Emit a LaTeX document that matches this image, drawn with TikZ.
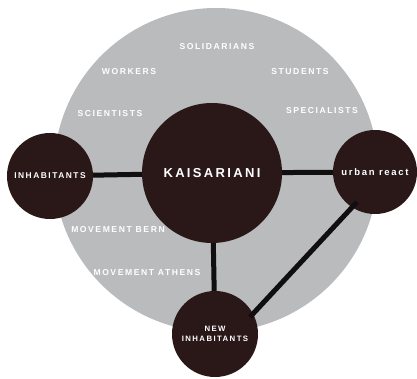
\documentclass[tikz,border=0pt]{standalone}
\usepackage{fontspec}
\setmainfont{Liberation Sans}
\newfontfamily\lblfont[LetterSpace=18,BoldFont={Liberation Sans Bold}]{Liberation Sans}
\usetikzlibrary{calc}

\definecolor{cloud}{RGB}{185,187,189}
\definecolor{hubfill}{RGB}{42,24,25}
\definecolor{linkcol}{RGB}{16,14,14}

\tikzset{
  hub/.style={circle,fill=hubfill,inner sep=0pt,text=white,align=center,
    font=\lblfont\bfseries\fontsize{8.4}{10}\selectfont},
  actor/.style={text=white,font=\lblfont\bfseries\fontsize{8.6}{10}\selectfont},
  link/.style={draw=linkcol,line width=5pt}
}

\begin{document}
\begin{tikzpicture}[x=1pt,y=-1pt]
\useasboundingbox (0,0) rectangle (417,379);

\fill[cloud] (216,170) circle (162);

% actors in the grey field
\node[actor] (sol) at (217,47) {SOLIDARIANS};
\node[actor] (wrk) at (129,72) {WORKERS};
\node[actor] (stu) at (300,72) {STUDENTS};
\node[actor] (sci) at (110,114) {SCIENTISTS};
\node[actor] (spe) at (322,111) {SPECIALISTS};
\node[actor] (mbe) at (118,230) {MOVEMENT BERN};
\node[actor] (mat) at (147,273) {MOVEMENT ATHENS};

% main circles
\node[hub,minimum size=140pt,font=\lblfont\bfseries\fontsize{13}{15}\selectfont] (kai) at (212,173) {KAISARIANI};
\node[hub,minimum size=86pt] (inh) at (50,176) {INHABITANTS};
\node[hub,minimum size=84pt,font=\lblfont\bfseries\fontsize{9.5}{11}\selectfont] (urb) at (375,172) {urban react};
\node[hub,minimum size=86pt,font=\lblfont\bfseries\fontsize{7.8}{9.5}\selectfont] (nin) at (215,334) {NEW\\INHABITANTS};

\draw[link] (inh) -- (kai);
\draw[link] (kai) -- (urb);
\draw[link] (kai) -- (nin);
\draw[link] ($(nin.center)+(35,-17)$) -- ($(urb.center)+(-18,30)$);
\end{tikzpicture}
\end{document}
